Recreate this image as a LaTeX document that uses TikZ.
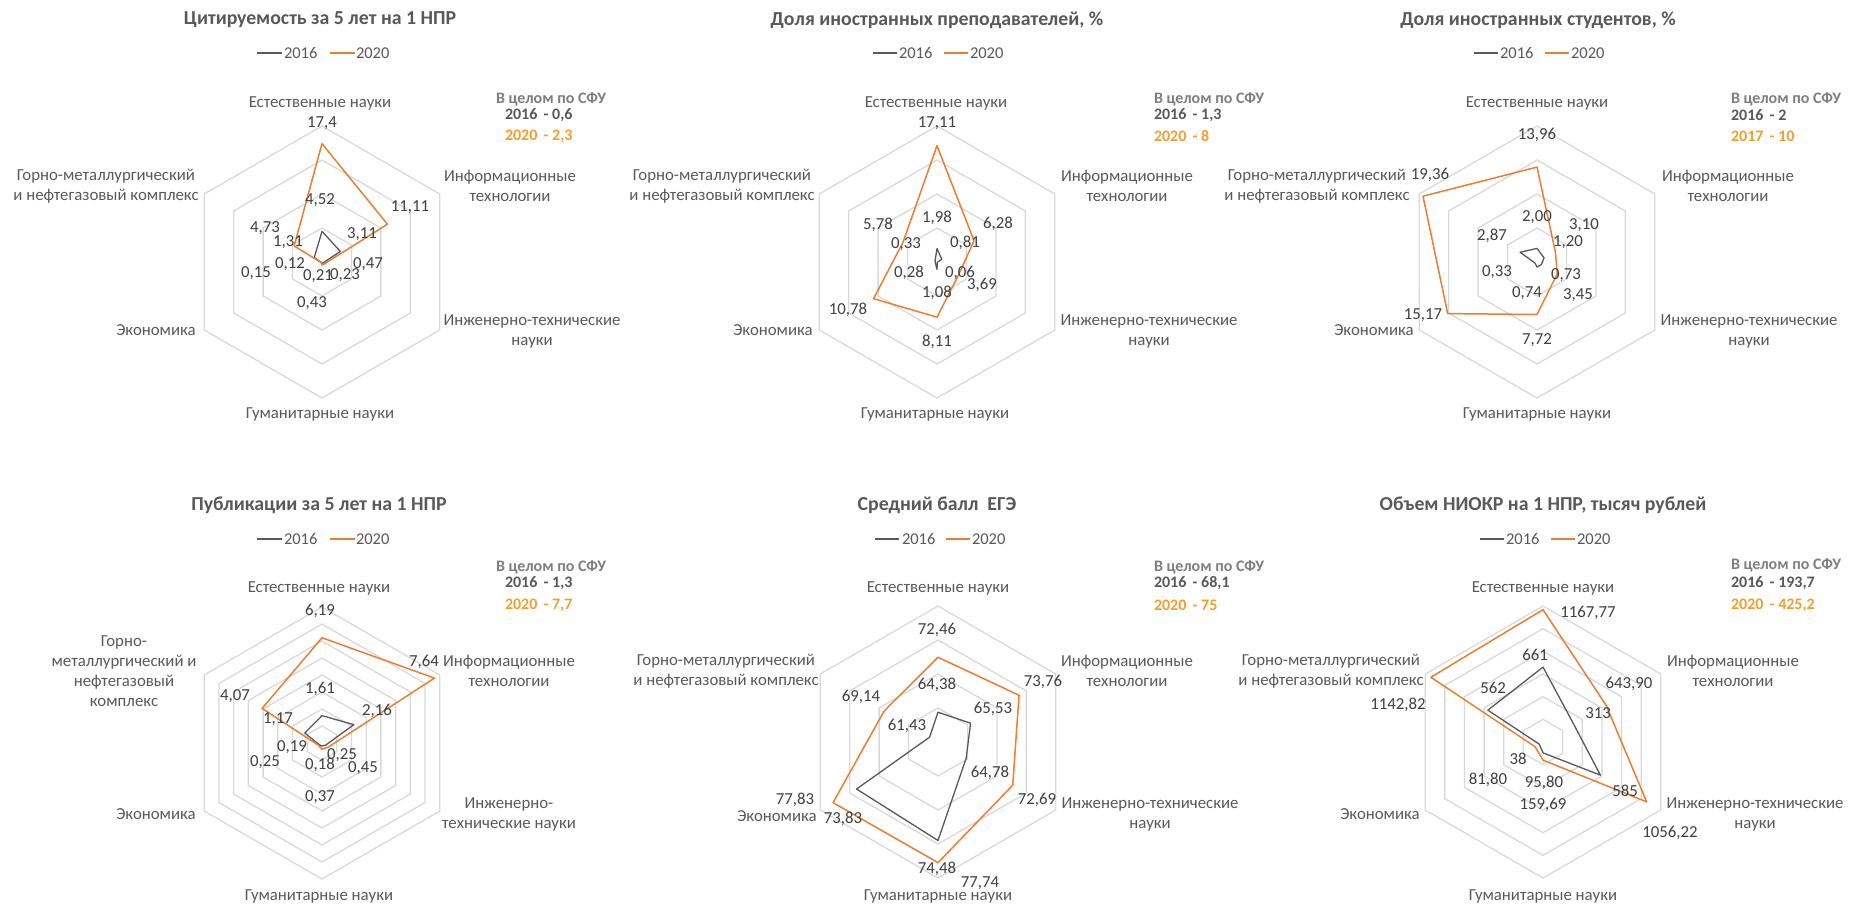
\documentclass[tikz,border=0pt]{standalone}
\usepackage{fontspec}
\setmainfont{Carlito}
\definecolor{cGrid}{HTML}{D9D9D9}
\definecolor{cOld}{HTML}{595959}
\definecolor{cNew}{HTML}{ED7D31}
\definecolor{cTitle}{HTML}{595959}
\definecolor{cAxis}{HTML}{595959}
\definecolor{cData}{HTML}{404040}
\definecolor{cBoxHead}{HTML}{7F7F7F}
\definecolor{cBoxNew}{HTML}{F59E2A}
\newcommand\hexring[2][]{\draw[#1] (-90:{#2}) -- (-30:{#2}) -- (30:{#2}) -- (90:{#2}) -- (150:{#2}) -- (210:{#2}) -- cycle;}
\newcommand\hexrings[1]{\foreach \k in {1,...,#1}{\hexring[ringline]{\k*136/#1}}}
% #1 style, #2 min, #3 scale, #4..#9 values
\newcommand\radarpoly[9]{\draw[#1] (-90:{(#4-#2)*#3}) -- (-30:{(#5-#2)*#3}) -- (30:{(#6-#2)*#3}) -- (90:{(#7-#2)*#3}) -- (150:{(#8-#2)*#3}) -- (210:{(#9-#2)*#3}) -- cycle;}
\tikzset{
  every node/.style={inner sep=0pt, outer sep=0pt},
  ttl/.style={font=\fontsize{19.8}{23}\selectfont\bfseries, text=cTitle},
  ax/.style={font=\fontsize{16.8}{20}\selectfont, text=cAxis, align=center},
  dl/.style={font=\fontsize{16.8}{20}\selectfont, text=cData},
  lg/.style={font=\fontsize{16.5}{20}\selectfont, text=cAxis, anchor=west},
  bxh/.style={font=\fontsize{16}{20}\selectfont\bfseries, text=cBoxHead, anchor=west},
  bxo/.style={font=\fontsize{16}{20}\selectfont\bfseries, text=cOld, anchor=west},
  bxn/.style={font=\fontsize{16}{20}\selectfont\bfseries, text=cBoxNew, anchor=west},
  ringline/.style={draw=cGrid, line width=1.3pt},
  oldline/.style={draw=cOld, line width=1.3pt, line join=round},
  newline/.style={draw=cNew, line width=1.5pt, line join=round},
}
\begin{document}
\begin{tikzpicture}[x=1pt,y=-1pt]
\fill[white] (0,0) rectangle (1851,906);
\useasboundingbox (0,0) rectangle (1851,906);

% ================= Chart 1 =================
\begin{scope}[shift={(322,262)}]
  \hexrings{4}
  \radarpoly{oldline}{0}{6.8}{4.52}{3.11}{0.23}{0.21}{0.12}{1.31}
  \radarpoly{newline}{0}{6.8}{17.4}{11.11}{0.47}{0.43}{0.15}{4.73}
\end{scope}
\node[ttl] (c1t) at (320,20) {Цитируемость за 5 лет на 1 НПР};
\node[lg] (c1g) at (284,53) {2016};
\node[lg] (c1o) at (356,53) {2020};
\draw[oldline] ([xshift=-27]c1g.west) -- ([xshift=-2]c1g.west);
\draw[newline] ([xshift=-26]c1o.west) -- ([xshift=-1]c1o.west);
\node[ax] (c1a1) at (320,103) {Естественные науки};
\node[ax] (c1a2) at (510,186) {Информационные\\технологии};
\node[ax] (c1a3) at (532,331) {Инженерно-технические\\науки};
\node[ax] (c1a4) at (320,414) {Гуманитарные науки};
\node[ax] (c1a5) at (156,330) {Экономика};
\node[ax] (c1a6) at (106,186) {Горно-металлургический\\и нефтегазовый комплекс};
\node[dl] (c1d1) at (322,123) {17,4};
\node[dl] (c1d2) at (320,200) {4,52};
\node[dl] (c1d3) at (410,207) {11,11};
\node[dl] (c1d4) at (362,234) {3,11};
\node[dl] (c1d5) at (265,228) {4,73};
\node[dl] (c1d6) at (288,242) {1,31};
\node[dl] (c1d7) at (290,264) {0,12};
\node[dl] (c1d8) at (256,273) {0,15};
\node[dl] (c1d9) at (318,276) {0,21};
\node[dl] (c1d10) at (345,275) {0,23};
\node[dl] (c1d11) at (368,264) {0,47};
\node[dl] (c1d12) at (312,303) {0,43};
\node[bxh] (c1b1) at (496,99) {В целом по СФУ};
\node[bxo] (c1b2) at (505,115) {2016 \,- 0,6};
\node[bxn] (c1b3) at (505,136) {2020 \,- 2,3};

% ================= Chart 2 =================
\begin{scope}[shift={(937,262)}]
  \hexrings{4}
  \radarpoly{oldline}{0}{6.8}{1.98}{0.81}{0.06}{1.08}{0.28}{0.33}
  \radarpoly{newline}{0}{6.8}{17.11}{6.28}{3.69}{8.11}{10.78}{5.78}
\end{scope}
\node[ttl] (c2t) at (937,20) {Доля иностранных преподавателей, \%};
\node[lg] (c2g) at (899,53) {2016};
\node[lg] (c2o) at (970,53) {2020};
\draw[oldline] ([xshift=-26]c2g.west) -- ([xshift=-2]c2g.west);
\draw[newline] ([xshift=-26]c2o.west) -- ([xshift=-2]c2o.west);
\node[ax] (c2a1) at (936,103) {Естественные науки};
\node[ax] (c2a2) at (1127,186) {Информационные\\технологии};
\node[ax] (c2a3) at (1149,331) {Инженерно-технические\\науки};
\node[ax] (c2a4) at (935,414) {Гуманитарные науки};
\node[ax] (c2a5) at (773,330) {Экономика};
\node[ax] (c2a6) at (722,186) {Горно-металлургический\\и нефтегазовый комплекс};
\node[dl] (c2d1) at (937,123) {17,11};
\node[dl] (c2d2) at (937,218) {1,98};
\node[dl] (c2d3) at (998,224) {6,28};
\node[dl] (c2d4) at (965,243) {0,81};
\node[dl] (c2d5) at (878,225) {5,78};
\node[dl] (c2d6) at (906,244) {0,33};
\node[dl] (c2d7) at (909,273) {0,28};
\node[dl] (c2d8) at (960,273) {0,06};
\node[dl] (c2d9) at (982,285) {3,69};
\node[dl] (c2d10) at (937,293) {1,08};
\node[dl] (c2d11) at (848,310) {10,78};
\node[dl] (c2d12) at (937,342) {8,11};
\node[bxh] (c2b1) at (1154,99) {В целом по СФУ};
\node[bxo] (c2b2) at (1154,115) {2016 \,- 1,3};
\node[bxn] (c2b3) at (1154,136) {2020 \,- 8};

% ================= Chart 3 =================
\begin{scope}[shift={(1537,262)}]
  \hexrings{4}
  \radarpoly{oldline}{0}{6.8}{2.00}{1.20}{0.73}{0.74}{0.33}{2.87}
  \radarpoly{newline}{0}{6.8}{13.96}{3.10}{3.45}{7.72}{15.17}{19.36}
\end{scope}
\node[ttl] (c3t) at (1538,20) {Доля иностранных студентов, \%};
\node[lg] (c3g) at (1500,53) {2016};
\node[lg] (c3o) at (1571,53) {2020};
\draw[oldline] ([xshift=-26]c3g.west) -- ([xshift=-2]c3g.west);
\draw[newline] ([xshift=-26]c3o.west) -- ([xshift=-2]c3o.west);
\node[ax] (c3a1) at (1537,103) {Естественные науки};
\node[ax] (c3a2) at (1728,186) {Информационные\\технологии};
\node[ax] (c3a3) at (1749,331) {Инженерно-технические\\науки};
\node[ax] (c3a4) at (1537,414) {Гуманитарные науки};
\node[ax] (c3a5) at (1374,330) {Экономика};
\node[ax] (c3a6) at (1317,186) {Горно-металлургический\\и нефтегазовый комплекс};
\node[dl] (c3d1) at (1537,135) {13,96};
\node[dl] (c3d2) at (1430,175) {19,36};
\node[dl] (c3d3) at (1537,217) {2,00};
\node[dl] (c3d4) at (1584,225) {3,10};
\node[dl] (c3d5) at (1568,242) {1,20};
\node[dl] (c3d6) at (1492,236) {2,87};
\node[dl] (c3d7) at (1497,272) {0,33};
\node[dl] (c3d8) at (1566,275) {0,73};
\node[dl] (c3d9) at (1527,293) {0,74};
\node[dl] (c3d10) at (1578,295) {3,45};
\node[dl] (c3d11) at (1423,315) {15,17};
\node[dl] (c3d12) at (1537,340) {7,72};
\node[bxh] (c3b1) at (1731,99) {В целом по СФУ};
\node[bxo] (c3b2) at (1731,115) {2016 \,- 2};
\node[bxn] (c3b3) at (1731,136) {2017 \,- 10};

% ================= Chart 4 =================
\begin{scope}[shift={(322,743)}]
  \hexrings{8}
  \radarpoly{oldline}{0}{17}{1.61}{2.16}{0.25}{0.18}{0.19}{1.17}
  \radarpoly{newline}{0}{17}{6.19}{7.64}{0.45}{0.37}{0.25}{4.07}
\end{scope}
\node[ttl] (c4t) at (319,505) {Публикации за 5 лет на 1 НПР};
\node[lg] (c4g) at (284,539) {2016};
\node[lg] (c4o) at (356,539) {2020};
\draw[oldline] ([xshift=-27]c4g.west) -- ([xshift=-2]c4g.west);
\draw[newline] ([xshift=-26]c4o.west) -- ([xshift=-1]c4o.west);
\node[ax] (c4a1) at (319,588) {Естественные науки};
\node[ax] (c4a2) at (509,671) {Информационные\\технологии};
\node[ax] (c4a3) at (509,814) {Инженерно-\\технические науки};
\node[ax] (c4a4) at (319,896) {Гуманитарные науки};
\node[ax] (c4a5) at (156,814) {Экономика};
\node[ax] (c4a6) at (124,671) {Горно-\\металлургический и\\нефтегазовый\\комплекс};
\node[dl] (c4d1) at (320,611) {6,19};
\node[dl] (c4d2) at (424,662) {7,64};
\node[dl] (c4d3) at (320,689) {1,61};
\node[dl] (c4d4) at (235,696) {4,07};
\node[dl] (c4d5) at (377,711) {2,16};
\node[dl] (c4d6) at (278,719) {1,17};
\node[dl] (c4d7) at (292,747) {0,19};
\node[dl] (c4d8) at (342,755) {0,25};
\node[dl] (c4d9) at (265,762) {0,25};
\node[dl] (c4d10) at (320,765) {0,18};
\node[dl] (c4d11) at (363,768) {0,45};
\node[dl] (c4d12) at (320,797) {0,37};
\node[bxh] (c4b1) at (496,567) {В целом по СФУ};
\node[bxo] (c4b2) at (505,583) {2016 \,- 1,3};
\node[bxn] (c4b3) at (505,605) {2020 \,- 7,7};

% ================= Chart 5 =================
\begin{scope}[shift={(938,742)}]
  \hexrings{4}
  \radarpoly{oldline}{60}{6.8}{64.38}{65.53}{64.78}{74.48}{73.83}{61.43}
  \radarpoly{newline}{60}{6.8}{72.46}{73.76}{72.69}{77.74}{77.83}{69.14}
\end{scope}
\node[ttl] (c5t) at (937,505) {Средний балл \ ЕГЭ};
\node[lg] (c5g) at (902,539) {2016};
\node[lg] (c5o) at (972,539) {2020};
\draw[oldline] ([xshift=-27]c5g.west) -- ([xshift=-3]c5g.west);
\draw[newline] ([xshift=-26]c5o.west) -- ([xshift=-2]c5o.west);
\node[ax] (c5a1) at (938,588) {Естественные науки};
\node[ax] (c5a2) at (1127,671) {Информационные\\технологии};
\node[ax] (c5a3) at (1150,814) {Инженерно-технические\\науки};
\node[ax] (c5a4) at (938,896) {Гуманитарные науки};
\node[ax] (c5a5) at (777,816) {Экономика};
\node[ax] (c5a6) at (726,671) {Горно-металлургический\\и нефтегазовый комплекс};
\node[dl] (c5d1) at (937,630) {72,46};
\node[dl] (c5d2) at (937,685) {64,38};
\node[dl] (c5d3) at (1043,682) {73,76};
\node[dl] (c5d4) at (993,709) {65,53};
\node[dl] (c5d5) at (861,697) {69,14};
\node[dl] (c5d6) at (907,726) {61,43};
\node[dl] (c5d7) at (990,773) {64,78};
\node[dl] (c5d8) at (1037,800) {72,69};
\node[dl] (c5d9) at (795,800) {77,83};
\node[dl] (c5d10) at (843,819) {73,83};
\node[dl] (c5d11) at (937,869) {74,48};
\node[dl] (c5d12) at (980,883) {77,74};
\node[bxh] (c5b1) at (1154,567) {В целом по СФУ};
\node[bxo] (c5b2) at (1154,583) {2016 \,- 68,1};
\node[bxn] (c5b3) at (1154,605) {2020 \,- 75};

% ================= Chart 6 =================
\begin{scope}[shift={(1543,742)}]
  \hexrings{6}
  \radarpoly{oldline}{0}{0.113333}{661}{313}{585}{95.80}{38}{562}
  \radarpoly{newline}{0}{0.113333}{1167.77}{643.90}{1056.22}{159.69}{81.80}{1142.82}
\end{scope}
\node[ttl] (c6t) at (1543,505) {Объем НИОКР на 1 НПР, тысяч рублей};
\node[lg] (c6g) at (1506,539) {2016};
\node[lg] (c6o) at (1577,539) {2020};
\draw[oldline] ([xshift=-26]c6g.west) -- ([xshift=-2]c6g.west);
\draw[newline] ([xshift=-26]c6o.west) -- ([xshift=-2]c6o.west);
\node[ax] (c6a1) at (1543,588) {Естественные науки};
\node[ax] (c6a2) at (1733,671) {Информационные\\технологии};
\node[ax] (c6a3) at (1755,814) {Инженерно-технические\\науки};
\node[ax] (c6a4) at (1543,896) {Гуманитарные науки};
\node[ax] (c6a5) at (1380,814) {Экономика};
\node[ax] (c6a6) at (1331,671) {Горно-металлургический\\и нефтегазовый комплекс};
\node[dl] (c6d1) at (1588,613) {1167,77};
\node[dl] (c6d2) at (1535,655) {661};
\node[dl] (c6d3) at (1629,684) {643,90};
\node[dl] (c6d4) at (1493,688) {562};
\node[dl] (c6d5) at (1398,705) {1142,82};
\node[dl] (c6d6) at (1598,713) {313};
\node[dl] (c6d7) at (1518,759) {38};
\node[dl] (c6d8) at (1488,780) {81,80};
\node[dl] (c6d9) at (1544,783) {95,80};
\node[dl] (c6d10) at (1625,791) {585};
\node[dl] (c6d11) at (1543,805) {159,69};
\node[dl] (c6d12) at (1670,833) {1056,22};
\node[bxh] (c6b1) at (1731,565) {В целом по СФУ};
\node[bxo] (c6b2) at (1731,583) {2016 \,- 193,7};
\node[bxn] (c6b3) at (1731,605) {2020 \,- 425,2};
\end{tikzpicture}
\end{document}
